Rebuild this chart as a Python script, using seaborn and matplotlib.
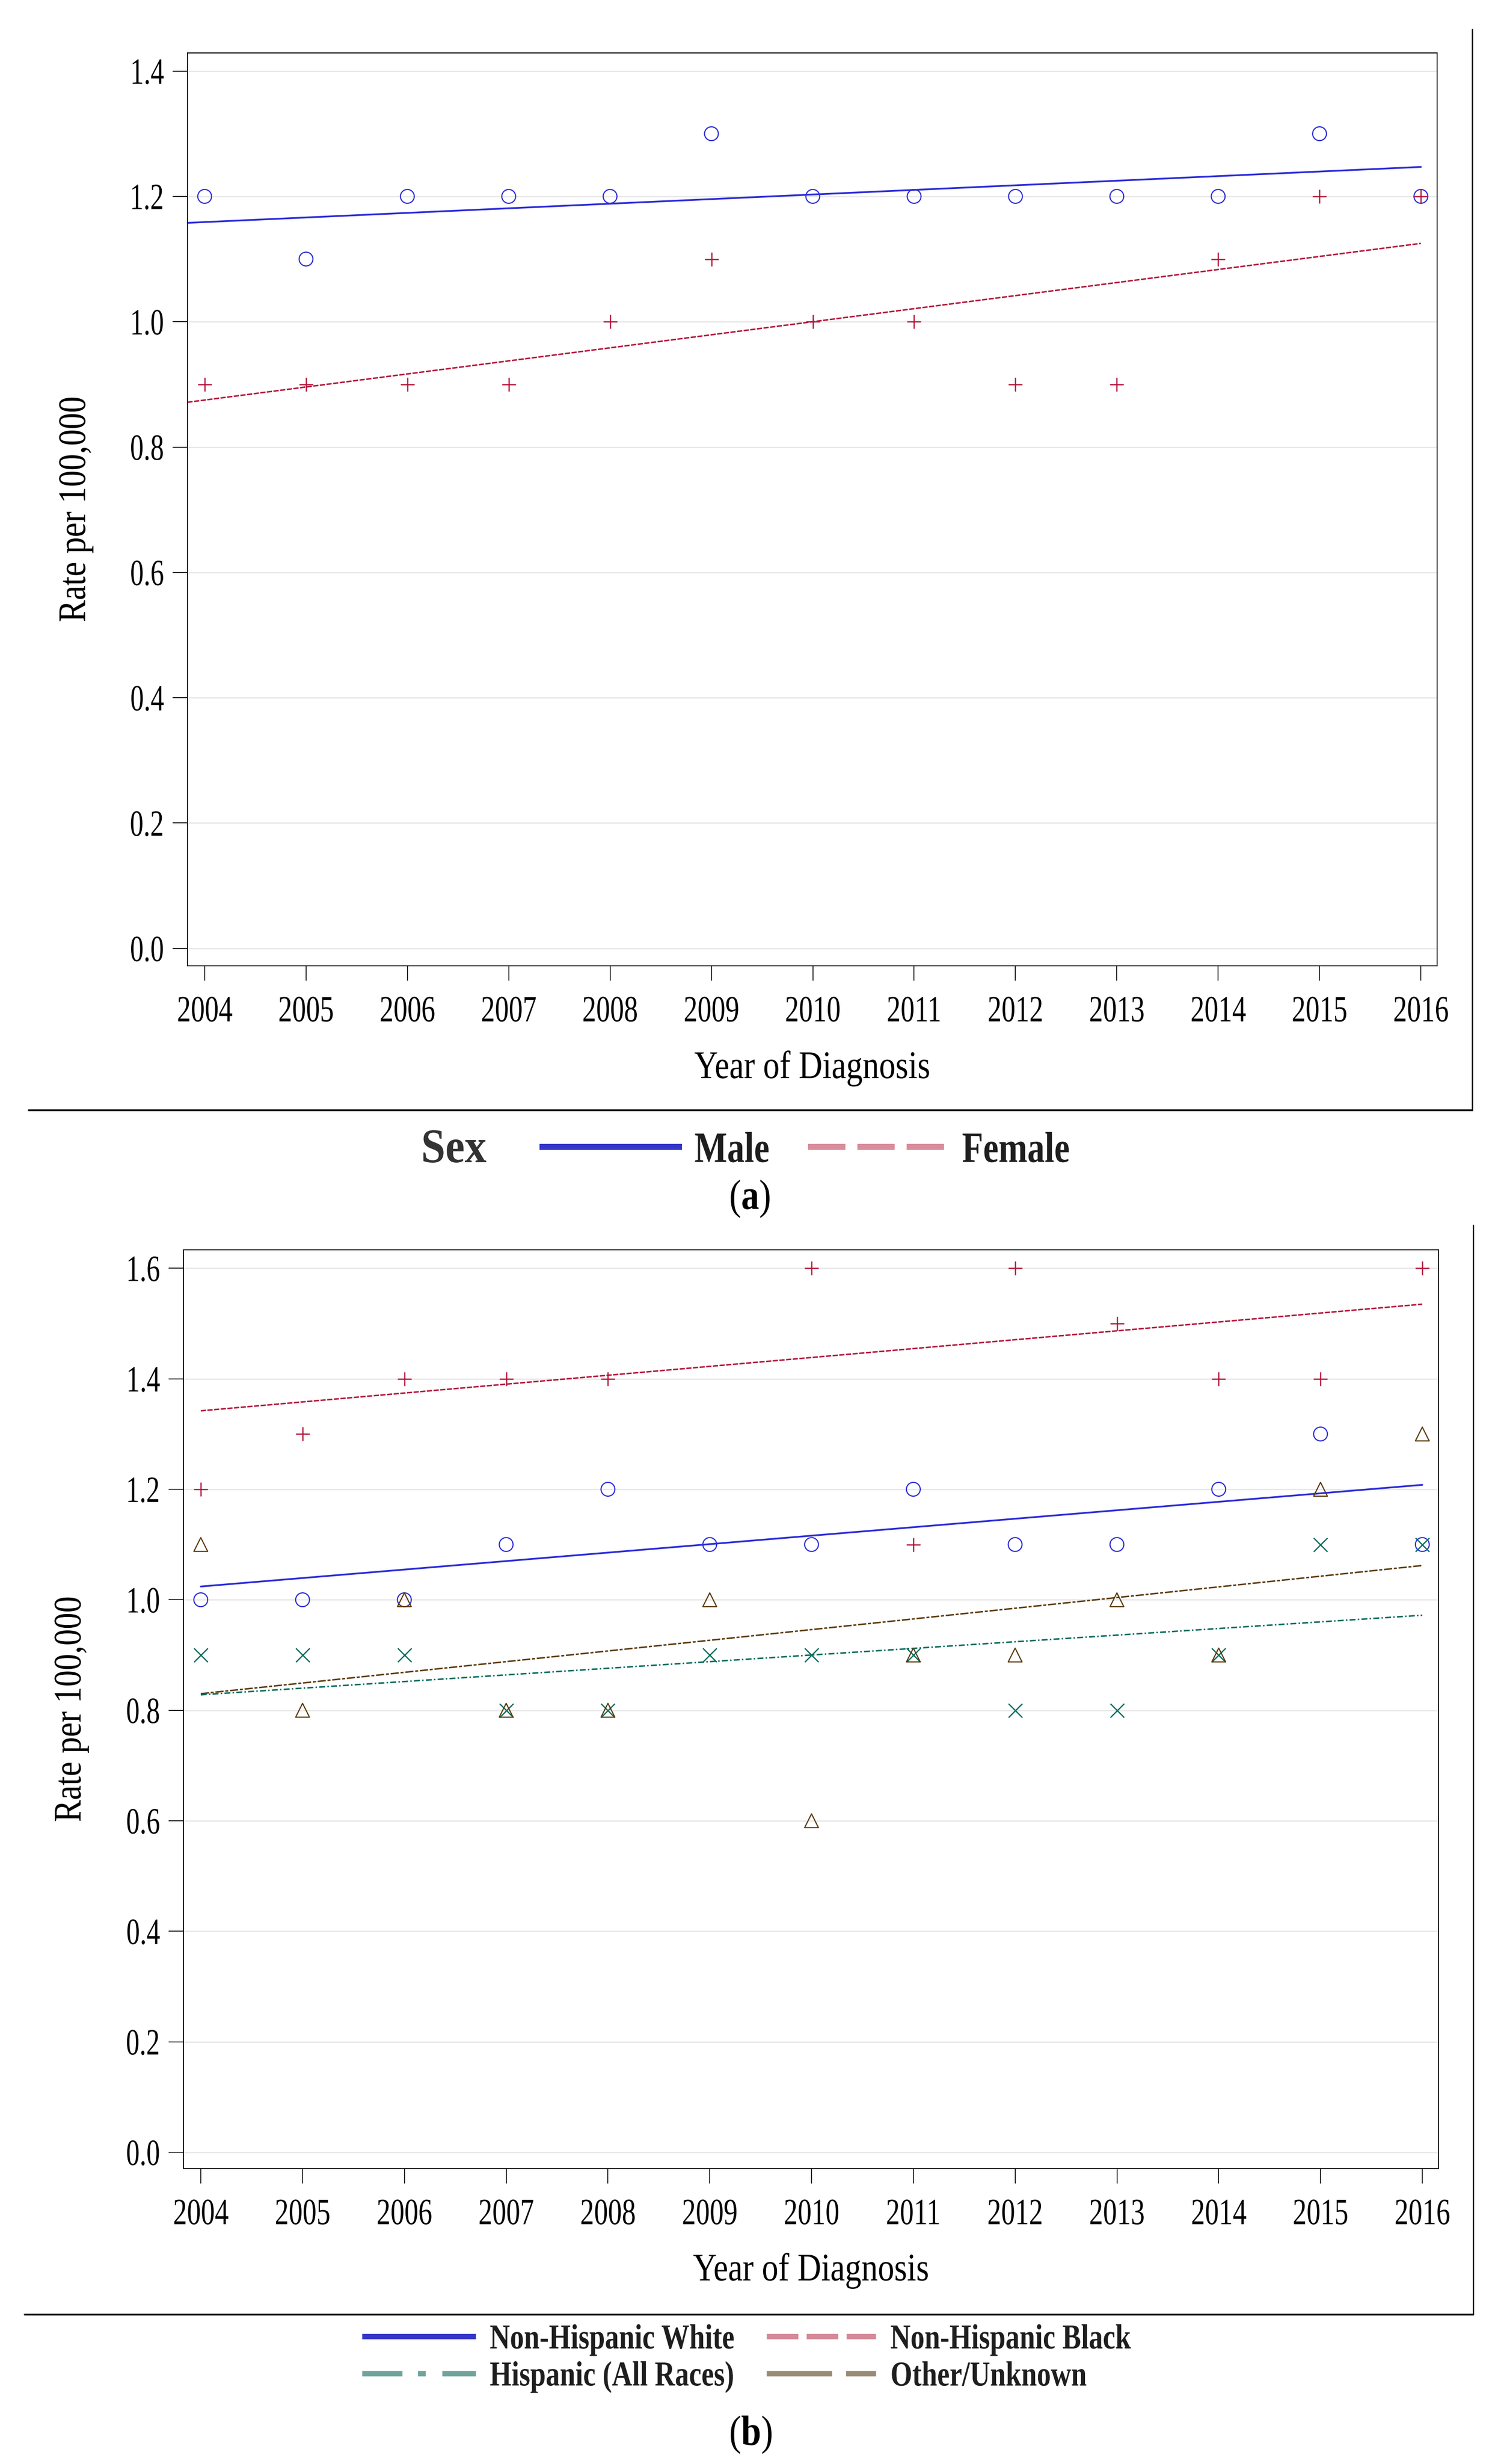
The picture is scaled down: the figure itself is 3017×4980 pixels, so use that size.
import numpy as np
import pandas as pd
import matplotlib
matplotlib.use("Agg")
import matplotlib.pyplot as plt
import seaborn as sns
from matplotlib.lines import Line2D
from matplotlib import patheffects as pe
from matplotlib.transforms import Affine2D

# ---------------- data ----------------
years = [2004, 2005, 2006, 2007, 2008, 2009, 2010, 2011, 2012, 2013, 2014, 2015, 2016]

male_rate   = [1.2, 1.1, 1.2, 1.2, 1.2, 1.3, 1.2, 1.2, 1.2, 1.2, 1.2, 1.3, 1.2]
female_rate = [0.9, 0.9, 0.9, 0.9, 1.0, 1.1, 1.0, 1.0, 0.9, 0.9, 1.1, 1.2, 1.2]

nhw_rate   = [1.0, 1.0, 1.0, 1.1, 1.2, 1.1, 1.1, 1.2, 1.1, 1.1, 1.2, 1.3, 1.1]
nhb_rate   = [1.2, 1.3, 1.4, 1.4, 1.4, np.nan, 1.6, 1.1, 1.6, 1.5, 1.4, 1.4, 1.6]
hisp_rate  = [0.9, 0.9, 0.9, 0.8, 0.8, 0.9, 0.9, 0.9, 0.8, 0.8, 0.9, 1.1, 1.1]
other_rate = [1.1, 0.8, 1.0, 0.8, 0.8, 1.0, 0.6, 0.9, 0.9, 1.0, 0.9, 1.2, 1.3]

# fitted trend lines, values at 2004 and 2016
trend_years = [2004, 2016]
male_trend   = [1.159, 1.247]
female_trend = [0.875, 1.125]
nhw_trend    = [1.024, 1.208]
nhb_trend    = [1.342, 1.535]
hisp_trend   = [0.828, 0.972]
other_trend  = [0.830, 1.062]

yticks_a = [0.0, 0.2, 0.4, 0.6, 0.8, 1.0, 1.2, 1.4]
yticks_b = [0.0, 0.2, 0.4, 0.6, 0.8, 1.0, 1.2, 1.4, 1.6]

x_title = "Year of Diagnosis"
y_title = "Rate per 100,000"
legend_title_a = "Sex"
labels_a = ["Male", "Female"]
labels_b = ["Non-Hispanic White", "Non-Hispanic Black", "Hispanic (All Races)", "Other/Unknown"]

# ---------------- style ----------------
SERIF = ["Liberation Serif", "DejaVu Serif"]
sns.set_theme(style="white")
plt.rcParams["font.family"] = SERIF
plt.rcParams["mathtext.fontset"] = "custom"
plt.rcParams["mathtext.rm"] = "Liberation Serif"
plt.rcParams["mathtext.bf"] = "Liberation Serif:bold"
plt.rcParams["legend.numpoints"] = 1

W, H, DPI = 3017, 4981, 300


def fx(px):
    return px / W


def fy(py):
    return 1 - py / H


class Squeeze(pe.AbstractPathEffect):
    """Horizontally condense glyph outlines (the reference uses a narrow serif)."""

    def __init__(self, sx, anchor="center"):
        super().__init__()
        self.sx = sx
        self.anchor = anchor

    def draw_path(self, renderer, gc, tpath, affine, rgbFace=None):
        if len(tpath.vertices) == 0:
            return
        ext = tpath.get_extents()
        if self.anchor == "left":
            cx = ext.x0
        elif self.anchor == "right":
            cx = ext.x1
        else:
            cx = 0.5 * (ext.x0 + ext.x1)
        a = Affine2D().translate(-cx, 0).scale(self.sx, 1).translate(cx, 0) + affine
        renderer.draw_path(gc, tpath, a, rgbFace)


BLUE = "#2b2bd9"
RED = "#b3163a"
TEAL = "#006b5c"
BROWN = "#5a3a0c"

fig = plt.figure(figsize=(W / DPI, H / DPI), dpi=DPI)
fig.patch.set_facecolor("white")

ax_a = fig.add_axes([fx(379), fy(1953), (2906 - 379) / W, (1953 - 108) / H])
ax_b = fig.add_axes([fx(371), fy(4384), (2909 - 371) / W, (4384 - 2527) / H])

XLIM = (2003.83, 2016.16)


def trend_xy(trend, start):
    x0, x1 = trend_years
    slope = (trend[1] - trend[0]) / (x1 - x0)
    xs = [start, x1]
    ys = [trend[0] + slope * (x - x0) for x in xs]
    return xs, ys


def draw_series(ax, rates, trend, color, marker, hollow, ls, lw, start):
    tx, ty = trend_xy(trend, start)
    sns.lineplot(x=tx, y=ty, color=color, lw=lw, linestyle=ls, ax=ax, legend=False, zorder=3)
    df = pd.DataFrame({"year": years, "rate": rates}).dropna()
    if hollow:
        sns.scatterplot(data=df, x="year", y="rate", marker=marker, s=45,
                        facecolors="none", edgecolor=color, linewidth=0.55,
                        ax=ax, legend=False, zorder=4)
    else:
        sns.scatterplot(data=df, x="year", y="rate", marker=marker, s=45,
                        color=color, linewidth=0.6, ax=ax, legend=False, zorder=4)


def style_axes(ax, ylim, yticks, xlab_y, ylab_x):
    ax.set_xlim(*XLIM)
    ax.set_ylim(*ylim)
    ax.set_xticks(years)
    ax.set_xticklabels([str(y) for y in years])
    ax.set_yticks(yticks)
    ax.set_yticklabels([f"{v:.1f}" for v in yticks])
    ax.grid(axis="y", color="#e6e6e6", lw=0.6)
    ax.grid(axis="x", visible=False)
    ax.set_axisbelow(True)
    for sp in ax.spines.values():
        sp.set_visible(True)
        sp.set_color("black")
        sp.set_linewidth(0.45)
    ax.tick_params(axis="both", which="major", direction="out", length=7.2, width=0.4,
                   color="black", labelsize=18, labelcolor="black",
                   top=False, right=False, left=True, bottom=True)
    ax.tick_params(axis="x", pad=7.4)
    ax.tick_params(axis="y", pad=4.0)
    for t in ax.get_xticklabels():
        t.set_path_effects([Squeeze(0.75, "center")])
    for t in ax.get_yticklabels():
        t.set_path_effects([Squeeze(0.73, "right")])
    ax.set_xlabel(x_title, fontsize=19, color="black")
    ax.set_ylabel(y_title, fontsize=19, color="black")
    ax.xaxis.label.set_va("baseline")
    ax.yaxis.label.set_va("baseline")
    ax.xaxis.set_label_coords(0.5, xlab_y)
    ax.yaxis.set_label_coords(ylab_x, 0.5)
    ax.xaxis.label.set_path_effects([Squeeze(0.84, "center")])
    ax.yaxis.label.set_path_effects([Squeeze(0.84, "center")])


# ---------------- panel (a) ----------------
draw_series(ax_a, male_rate, male_trend, BLUE, "o", True, "-", 0.85, XLIM[0])
draw_series(ax_a, female_rate, female_trend, RED, "+", False, (0, (3.5, 1.0)), 0.72, XLIM[0])
style_axes(ax_a, (-0.0278, 1.4289), yticks_a, -0.123, -0.0819)

# ---------------- panel (b) ----------------
draw_series(ax_b, nhw_rate, nhw_trend, BLUE, "o", True, "-", 0.85, trend_years[0])
draw_series(ax_b, nhb_rate, nhb_trend, RED, "+", False, (0, (3.5, 1.0)), 0.72, trend_years[0])
draw_series(ax_b, hisp_rate, hisp_trend, TEAL, "x", False, (0, (4.0, 1.5, 1.0, 1.5)), 0.72, trend_years[0])
draw_series(ax_b, other_rate, other_trend, BROWN, "^", True, (0, (5.5, 1.2, 2.0, 1.2)), 0.72, trend_years[0])
style_axes(ax_b, (-0.0296, 1.6334), yticks_b, -0.1217, -0.082)

# ---------------- frame lines ----------------
for (xa, xb, yh, yt) in [(58, 2977, 2245, 60), (50, 2979, 4679, 2477)]:
    fig.add_artist(Line2D([fx(xa), fx(xb)], [fy(yh), fy(yh)], color="black", lw=0.85,
                          transform=fig.transFigure))
    fig.add_artist(Line2D([fx(xb), fx(xb)], [fy(yt), fy(yh)], color="black", lw=0.6,
                          transform=fig.transFigure))


# ---------------- legends ----------------
def key(label, color, ls, lw, x_px, y_px, fs, hl_px, pad_px, sx):
    fs_px = fs * DPI / 72
    h = Line2D([], [], color=color, lw=lw, linestyle=ls, solid_capstyle="butt",
               dash_capstyle="butt")
    leg = fig.legend([h], [label], loc="center left",
                     bbox_to_anchor=(fx(x_px), fy(y_px)), bbox_transform=fig.transFigure,
                     frameon=False, borderpad=0, borderaxespad=0,
                     handlelength=hl_px / fs_px, handletextpad=pad_px / fs_px,
                     prop={"family": SERIF, "weight": "bold", "size": fs},
                     labelcolor="#1e1e1e")
    for t in leg.get_texts():
        t.set_path_effects([Squeeze(sx, "left")])
    return leg


fig.text(fx(851), fy(2350), legend_title_a, ha="left", va="baseline", fontsize=23.5,
         fontweight="bold", color="#333333", path_effects=[Squeeze(0.9, "left")])
key(labels_a[0], "#3434c8", "-", 2.9, 1091, 2328, 21, 288, 25, 0.8)
key(labels_a[1], "#d98c9c", (0, (6.25, 2.0)), 2.9, 1634, 2328, 21, 275, 36, 0.8)

key(labels_b[0], "#3535c8", "-", 2.6, 732, 4730, 17, 230, 28, 0.8)
key(labels_b[2], "#6fa39c", (0, (7.5, 2.9, 1.45, 3.1)), 2.6, 732, 4805, 17, 230, 28, 0.8)
key(labels_b[1], "#d48a98", (0, (5.9, 1.55)), 2.6, 1550, 4730, 17, 221, 29, 0.8)
key(labels_b[3], "#9a8b72", (0, (12.2, 2.6)), 2.6, 1550, 4805, 17, 221, 29, 0.8)

fig.text(fx(1516), fy(2425), r"($\mathbf{a}$)", ha="center", va="center", fontsize=20.5,
         color="black", path_effects=[Squeeze(0.85, "center")])
fig.text(fx(1518), fy(4923), r"($\mathbf{b}$)", ha="center", va="center", fontsize=20.5,
         color="black", path_effects=[Squeeze(0.85, "center")])

fig.savefig("out.png", dpi=DPI, facecolor="white")
